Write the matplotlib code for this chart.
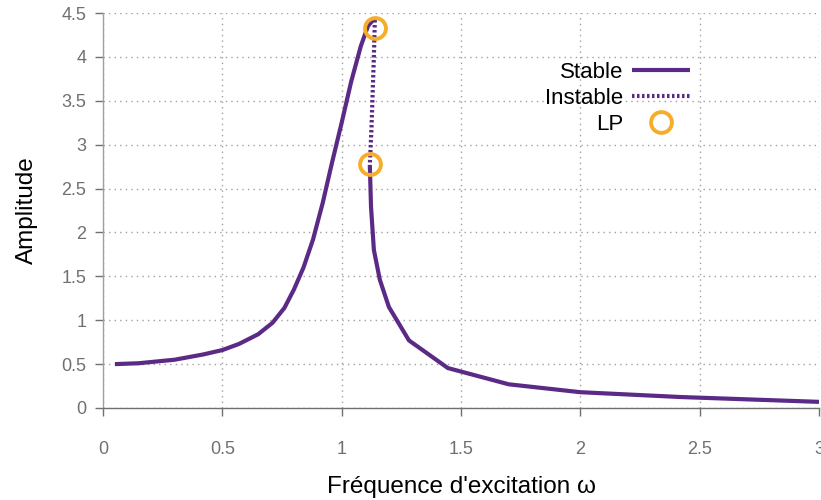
import matplotlib
matplotlib.use("Agg")
import matplotlib.pyplot as plt
import numpy as np

plt.rcParams['font.family'] = ['Liberation Sans', 'DejaVu Sans']

# Stable branch (lower frequency side, up to the upper limit point)
stable1_x = [0.05, 0.15, 0.30, 0.42, 0.50, 0.57, 0.65, 0.71, 0.76, 0.80, 0.84, 0.88, 0.92, 0.96, 1.00, 1.04, 1.08, 1.11, 1.131]
stable1_y = [0.50, 0.51, 0.55, 0.61, 0.66, 0.73, 0.84, 0.97, 1.14, 1.35, 1.60, 1.92, 2.33, 2.80, 3.25, 3.72, 4.12, 4.35, 4.42]
# Unstable branch (between the two limit points)
unstable_x = [1.139, 1.135, 1.130, 1.125, 1.121, 1.118]
unstable_y = [4.42, 4.00, 3.60, 3.20, 2.95, 2.77]
# Stable branch (upper frequency side)
stable2_x = [1.118, 1.123, 1.135, 1.160, 1.198, 1.282, 1.445, 1.70, 2.00, 2.42, 3.00]
stable2_y = [2.77, 2.29, 1.80, 1.46, 1.15, 0.77, 0.455, 0.27, 0.18, 0.125, 0.07]
# Limit points
lp_x = [1.139, 1.118]
lp_y = [4.33, 2.78]

xticks = [0, 0.5, 1, 1.5, 2, 2.5, 3]
xticklabels = ["0", "0.5", "1", "1.5", "2", "2.5", "3"]
yticks = [0, 0.5, 1, 1.5, 2, 2.5, 3, 3.5, 4, 4.5]
yticklabels = ["0", "0.5", "1", "1.5", "2", "2.5", "3", "3.5", "4", "4.5"]

purple = "#5b2a86"
orange = "#f5ae2a"
gray = "#707070"

fig = plt.figure(figsize=(8.21, 5.0), dpi=100)
ax = fig.add_axes([103/821, 92/500, 716/821, 395/500])

ax.plot(stable1_x, stable1_y, color=purple, lw=3, solid_capstyle='butt', label="Stable")
ax.plot(stable2_x, stable2_y, color=purple, lw=3, solid_capstyle='butt')
ax.plot(unstable_x, unstable_y, color=purple, lw=3, linestyle=(0, (0.6, 0.6)), label="Instable")
ax.plot(lp_x, lp_y, linestyle='none', marker='o', markersize=15, markerfacecolor='none',
        markeredgecolor=orange, markeredgewidth=2.8, label="LP")

ax.set_xlim(0, 3)
ax.set_ylim(0, 4.5)
ax.set_xticks(xticks)
ax.set_xticklabels(xticklabels)
ax.set_yticks(yticks)
ax.set_yticklabels(yticklabels)

ax.grid(True, color="#a0a0a0", linestyle=(0, (1, 3)), linewidth=1)
for s in ['top', 'right']:
    ax.spines[s].set_visible(False)
ax.spines['bottom'].set_color(gray)
ax.spines['bottom'].set_linewidth(1)
ax.spines['left'].set_color("#a0a0a0")
ax.spines['left'].set_linewidth(1)
ax.tick_params(axis='both', colors=gray, labelcolor=gray, labelsize=13,
               length=6, width=1, direction='out')
ax.tick_params(axis='x', pad=18)
ax.tick_params(axis='y', pad=6)

ax.set_xlabel("Fréquence d'excitation ω", fontsize=17.5, color="black", labelpad=13)
ax.set_ylabel("Amplitude", fontsize=17.5, color="black", labelpad=17)

leg = ax.legend(loc='upper right', bbox_to_anchor=(690/821, 1 - 62/500), bbox_transform=fig.transFigure,
                frameon=False, markerfirst=False, borderpad=0, borderaxespad=0,
                fontsize=16, handlelength=2.6, labelspacing=0.22, handletextpad=0.4)
for t in leg.get_texts():
    t.set_ha('right')

fig.savefig("out.png", dpi=100)
